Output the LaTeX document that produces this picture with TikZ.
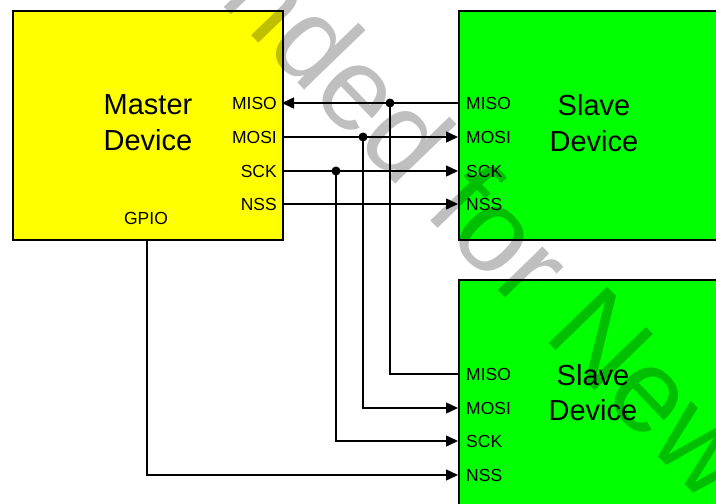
\documentclass[tikz,border=0pt]{standalone}
\usepackage{fontspec}
\setmainfont{Liberation Sans}
\usetikzlibrary{arrows.meta}
\definecolor{myyellow}{RGB}{255,255,0}
\definecolor{mygreen}{RGB}{0,255,0}
\begin{document}
\begin{tikzpicture}[x=1pt,y=-1pt,
  box/.style={draw=black,line width=1.5pt,inner sep=0pt,anchor=north west},
  wire/.style={line width=1.5pt},
  arr/.style={wire,-{Triangle[length=12pt,width=11pt]}},
  pinlabel/.style={font=\fontsize{17.5}{17.5}\selectfont,inner sep=0pt},
  title/.style={font=\fontsize{29}{35}\selectfont,inner sep=0pt},
  dot/.style={circle,fill=black,inner sep=0pt,minimum size=9pt},
  watermark/.style={font=\fontsize{118}{118}\selectfont,text=black,opacity=0.25,rotate=-46,anchor=base west,inner sep=0pt}]
\clip (0,0) rectangle (716,504);
\fill[white] (0,0) rectangle (716,504);
% boxes
\node[box,fill=myyellow,minimum width=270pt,minimum height=229pt] (master) at (12,10) {};
\node[box,fill=mygreen,minimum width=290pt,minimum height=229pt] (slaveA) at (458,10) {};
\node[box,fill=mygreen,minimum width=290pt,minimum height=240pt] (slaveB) at (458,279) {};
% titles
\node[title] (mt1) at (148,105) {Master};
\node[title] (mt2) at (148,140) {Device};
\node[title] (sa1) at (594,105) {Slave};
\node[title] (sa2) at (594,141) {Device};
\node[title] (sb1) at (593,375) {Slave};
\node[title] (sb2) at (593,410) {Device};
% master pin labels
\node[pinlabel,anchor=east] (lmMISO) at (277,103) {MISO};
\node[pinlabel,anchor=east] (lmMOSI) at (277,137) {MOSI};
\node[pinlabel,anchor=east] (lmSCK) at (277,171) {SCK};
\node[pinlabel,anchor=east] (lmNSS) at (277,204) {NSS};
\node[pinlabel] (lmGPIO) at (146,218) {GPIO};
% slave A pin labels
\node[pinlabel,anchor=west] (laMISO) at (466,103) {MISO};
\node[pinlabel,anchor=west] (laMOSI) at (466,137) {MOSI};
\node[pinlabel,anchor=west] (laSCK) at (466,171) {SCK};
\node[pinlabel,anchor=west] (laNSS) at (466,204) {NSS};
% slave B pin labels
\node[pinlabel,anchor=west] (lbMISO) at (466,374) {MISO};
\node[pinlabel,anchor=west] (lbMOSI) at (466,408) {MOSI};
\node[pinlabel,anchor=west] (lbSCK) at (466,441) {SCK};
\node[pinlabel,anchor=west] (lbNSS) at (466,475) {NSS};
% pin coordinates
\coordinate (mMISO) at (282,103);
\coordinate (mMOSI) at (282,137);
\coordinate (mSCK) at (282,171);
\coordinate (mNSS) at (282,204);
\coordinate (mGPIO) at (147,239);
\coordinate (aMISO) at (458,103);
\coordinate (aMOSI) at (458,137);
\coordinate (aSCK) at (458,171);
\coordinate (aNSS) at (458,204);
\coordinate (bMISO) at (458,374);
\coordinate (bMOSI) at (458,408);
\coordinate (bSCK) at (458,441);
\coordinate (bNSS) at (458,475);
% wires
\draw[arr] (aMISO) -- (mMISO);
\draw[arr] (mMOSI) -- (aMOSI);
\draw[arr] (mSCK) -- (aSCK);
\draw[arr] (mNSS) -- (aNSS);
\node[dot] (dMISO) at (390,103) {};
\node[dot] (dMOSI) at (363,137) {};
\node[dot] (dSCK) at (336,171) {};
\draw[wire] (dMISO.center) |- (bMISO);
\draw[arr] (dMOSI.center) |- (bMOSI);
\draw[arr] (dSCK.center) |- (bSCK);
\draw[arr] (mGPIO) |- (bNSS);
% watermark
\node[watermark] (wm) at (173,-46) {ended for New};
\end{tikzpicture}
\end{document}
